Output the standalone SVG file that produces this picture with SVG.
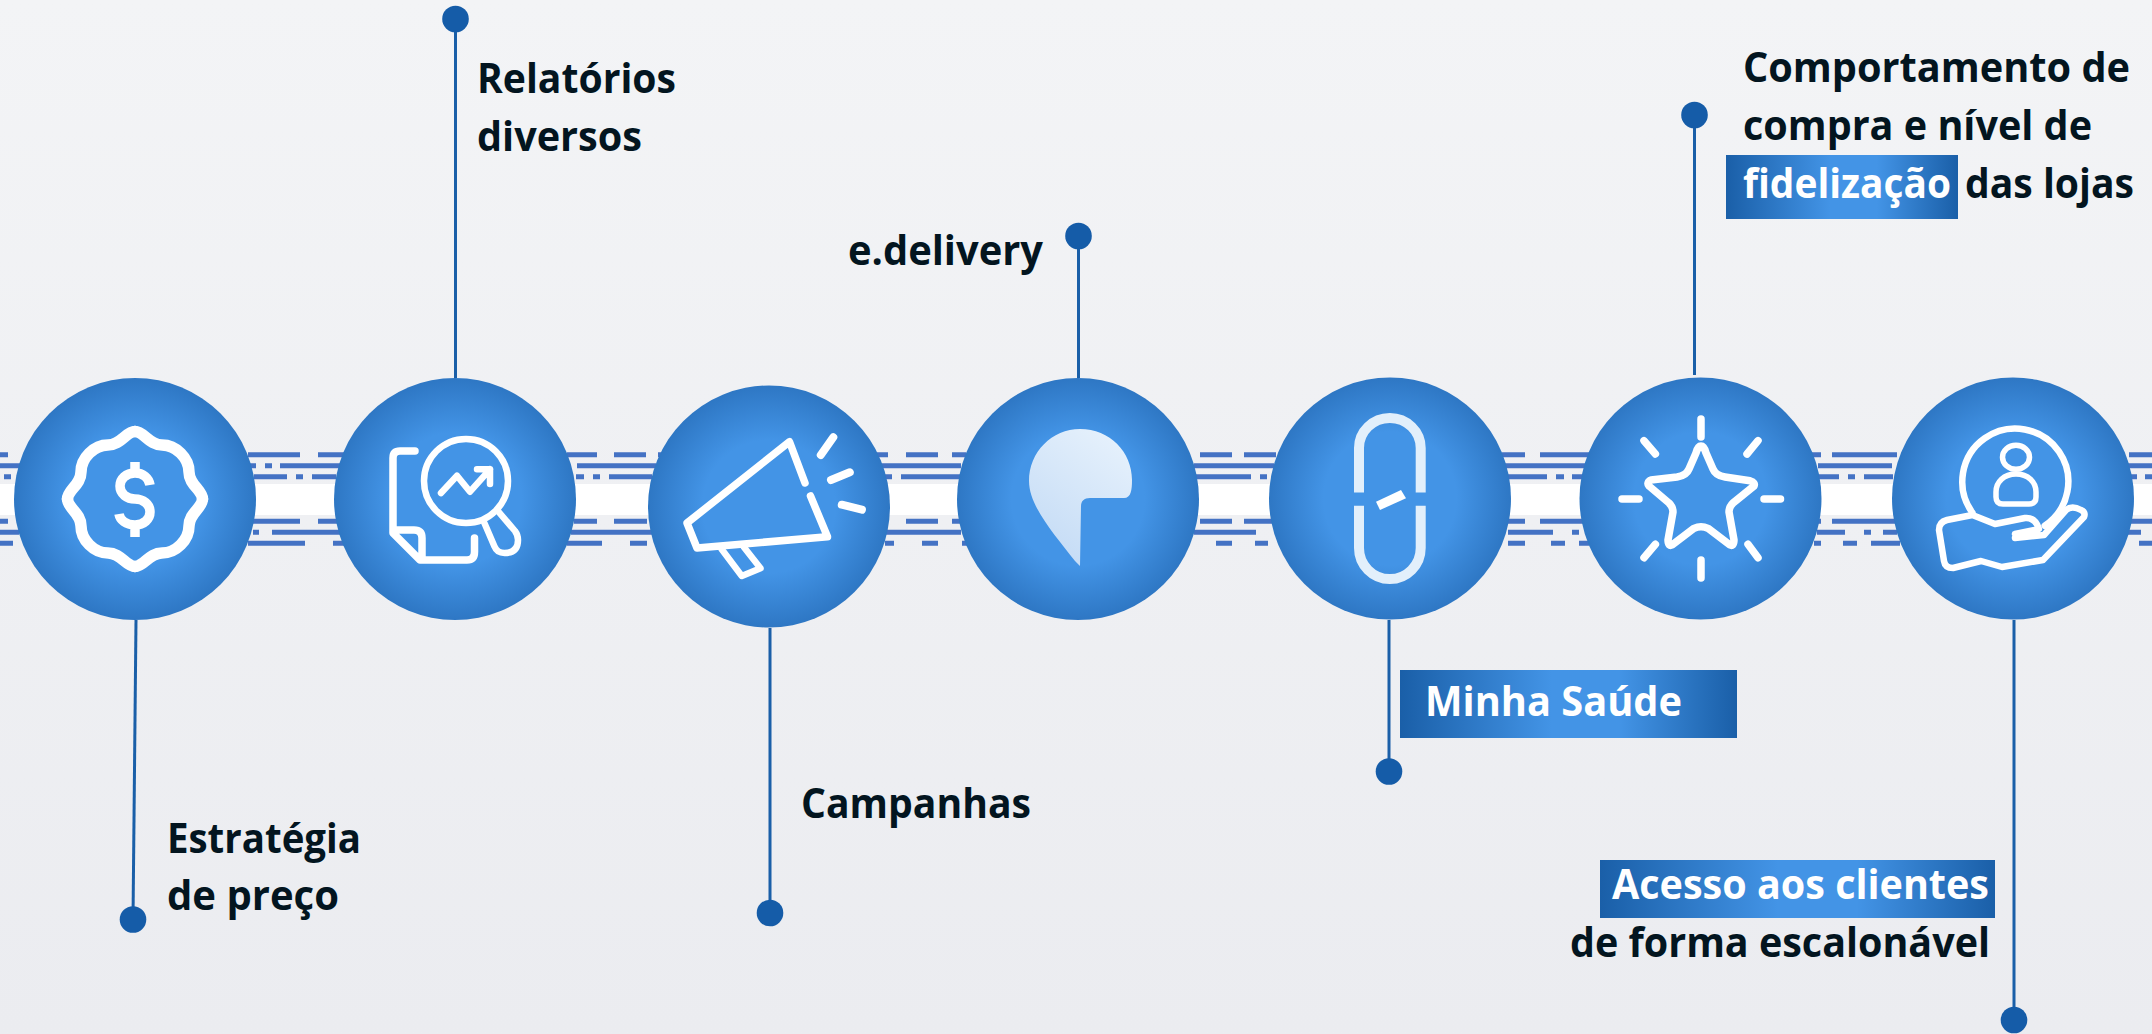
<svg xmlns="http://www.w3.org/2000/svg" xmlns:xlink="http://www.w3.org/1999/xlink" width="2152" height="1034" viewBox="0 0 2152 1034">
<style>
text{font-family:"Open Sans","Noto Sans","Liberation Sans",sans-serif;font-weight:700;font-size:42px;fill:#03151f}
text.w{fill:#fff}
.dash{fill:none;stroke:#4472c4;stroke-width:5}
.conn{fill:none;stroke:#1a5fa8;stroke-width:3}
.dot{fill:#155ca8}
.ic{fill:none;stroke:#fff;stroke-width:7.500;stroke-linecap:round;stroke-linejoin:round}
.th{stroke-width:6.500}
.hub{fill:url(#hub)}
</style>
<defs>
<linearGradient id="bg" x1="0" y1="0" x2="0" y2="1"><stop offset="0" stop-color="#f3f4f6"/><stop offset="1" stop-color="#ebecf0"/></linearGradient>
<radialGradient id="hub"><stop offset="0" stop-color="#4394e6"/><stop offset=".55" stop-color="#4394e6"/><stop offset="1" stop-color="#2e77c4"/></radialGradient>
<linearGradient id="tag"><stop offset="0" stop-color="#1a5fa8"/><stop offset=".45" stop-color="#4394e6"/><stop offset=".65" stop-color="#4394e6"/><stop offset="1" stop-color="#1a5fa8"/></linearGradient>
<linearGradient id="pin" x1=".75" y1="0" x2=".2" y2="1"><stop offset="0" stop-color="#e6f1fc"/><stop offset="1" stop-color="#c2daf5"/></linearGradient>
<path id="lobe" d="M0,-67.500C9,-67.500 14,-54 27,-54C41,-54 54,-41 54,-27C54,-14 67.500,-9 67.500,0"/>
</defs>
<rect width="2152" height="1034" fill="url(#bg)"/>
<rect y="484" width="2152" height="31" fill="#fff"/>
<g id="band">
<path class="dash" d="M0 454.700H8M248 454.700H300M318 454.700H345M567 454.700H597M614 454.700H646M658 454.700H670M877 454.700H888M906 454.700H938M952 454.700H966M1200 454.700H1232M1244 454.700H1276M1502 454.700H1525M1540 454.700H1589M1803 454.700H1821M1832 454.700H1897M2129 454.700H2152"/>
<path class="dash" d="M0 465.700H20M250 465.700H256M265 465.700H272M280 465.700H340M577 465.700H656M881 465.700H961M1194 465.700H1274M1505 465.700H1585M1818 465.700H1892M2128 465.700H2152"/>
<path class="dash" d="M4 476.700H11M254 476.700H287M296 476.700H303M312 476.700H336M576 476.700H584M593 476.700H600M609 476.700H652M883 476.700H892M901 476.700H960M1196 476.700H1251M1260 476.700H1267M1508 476.700H1547M1556 476.700H1564M1572 476.700H1583M1819 476.700H1839M1848 476.700H1855M1864 476.700H1893M2131 476.700H2137M2145 476.700H2152"/>
<path class="dash" d="M0 521.300H8M248 521.300H300M318 521.300H344M574 521.300H597M614 521.300H646M640 521.300H647M881 521.300H888M906 521.300H938M952 521.300H966M1200 521.300H1232M1244 521.300H1276M1508 521.300H1525M1540 521.300H1583M1814 521.300H1821M1832 521.300H1895M2129 521.300H2152"/>
<path class="dash" d="M0 532.300H19M253 532.300H259M272 532.300H340M571 532.300H652M885 532.300H961M1194 532.300H1256M1508 532.300H1553M1572 532.300H1579M1817 532.300H1845M1864 532.300H1871M1883 532.300H1897M2128 532.300H2141"/>
<path class="dash" d="M0 543.300H13M248 543.300H305M333 543.300H344M567 543.300H602M630 543.300H647M885 543.300H894M922 543.300H938M962 543.300H968M1216 543.300H1232M1255 543.300H1268M1508 543.300H1525M1551 543.300H1565M1579 543.300H1589M1814 543.300H1821M1843 543.300H1857M1871 543.300H1900M2139 543.300H2152"/>
</g>
<g id="connectors">
<path class="conn" d="M136 620L133 919"/>
<path class="conn" d="M455.500 19V378"/>
<path class="conn" d="M770 628V913"/>
<path class="conn" d="M1078.500 236V378"/>
<path class="conn" d="M1389 620V771"/>
<path class="conn" d="M1694.500 115V375"/>
<path class="conn" d="M2014 620V1020"/>
</g>
<g id="node-preco">
<circle class="hub" cx="135" cy="499" r="121"/>
<g class="ic" style="stroke-width:11.500" transform="translate(135 499)">
<use xlink:href="#lobe"/><use xlink:href="#lobe" transform="rotate(90)"/><use xlink:href="#lobe" transform="rotate(180)"/><use xlink:href="#lobe" transform="rotate(270)"/>
</g>
<path d="M150 485C149 478 143 473 135 473C126 473 120 479 120 486C120 494 127 499 135 499C143 499 150 504 150 512C150 519 144 525 135 525C126 525 120 520 119 514M135 462V473M135 525V537" fill="none" stroke="#fff" stroke-width="9.500"/>
<circle class="dot" cx="133" cy="919.500" r="13.300"/>
<text x="167" y="853" textLength="194" lengthAdjust="spacingAndGlyphs">Estratégia</text><text x="167" y="910" textLength="172" lengthAdjust="spacingAndGlyphs">de preço</text>
</g>
<g id="node-relatorios">
<circle class="hub" cx="455" cy="499" r="121"/>
<path class="ic" d="M415 451H400Q393 451 393 458V533L420 560H467Q474.500 560 474.500 552V538M393 530H414Q422 530 422 538V560"/>
<circle class="ic th" cx="466" cy="481" r="42"/>
<path class="ic th" d="M441 493L457 475.700L470 491.700L490 469.300M477 469.300H490V484"/>
<path class="ic th" d="M484.400 523L494.600 546.700Q497 553 504.500 553Q518 553 518 540Q518 535 515 531L497 510"/>
<circle class="dot" cx="455.500" cy="19" r="13.300"/>
<text x="477" y="93" textLength="199" lengthAdjust="spacingAndGlyphs">Relatórios</text><text x="477" y="151" textLength="165" lengthAdjust="spacingAndGlyphs">diversos</text>
</g>
<g id="node-campanhas">
<circle class="hub" cx="769" cy="506.500" r="121"/>
<path class="ic" d="M805 483L789.500 441.700L687 523L697 548L827.500 536.700L810.500 496"/>
<path class="ic th" d="M721.700 549.300L741.800 576L760.500 568.300L743.600 546.700"/>
<path class="ic" style="stroke-width:8" d="M820.800 455L833.300 437.300M831 480L849.800 472.300M841.800 504.700L861.900 509.700"/>
<circle class="dot" cx="770" cy="913" r="13.300"/>
<text x="801" y="818" textLength="230" lengthAdjust="spacingAndGlyphs">Campanhas</text>
</g>
<g id="node-edelivery">
<circle class="hub" cx="1078" cy="499" r="121"/>
<path fill="url(#pin)" d="M1080 566L1075 561C1054 534 1029 506 1029 481C1029 452 1052 429 1080 429C1110 429 1132 452 1132 480C1132 490 1131 498 1124 498H1090C1084 498 1081 501 1081 506Z"/>
<circle class="dot" cx="1078.500" cy="236" r="13.300"/>
<text x="848" y="265" textLength="195" lengthAdjust="spacingAndGlyphs">e.delivery</text>
</g>
<g id="node-minha-saude">
<circle class="hub" cx="1390" cy="498.500" r="121"/>
<path fill="none" stroke="#e2effb" stroke-width="10" d="M1359 492.500V448A30.800 30 0 0 1 1420.700 448V492.500M1359 505.700V548A30.800 31 0 0 0 1420.700 548V505.700"/>
<path fill="#fff" d="M1376 501.700L1401 490L1406 498.300L1380 510Z"/>
<circle class="dot" cx="1389" cy="771.500" r="13.300"/>
<rect x="1400" y="670" width="337" height="68" fill="url(#tag)"/>
<text class="w" x="1425" y="716" textLength="257" lengthAdjust="spacingAndGlyphs">Minha Saúde</text>
</g>
<g id="node-fidelizacao">
<circle class="hub" cx="1700.500" cy="498.500" r="121"/>
<path class="ic" d="M1701 446C1703 446 1705 449 1706 453L1713 469C1715 474 1719 476 1725 477L1750 480.700C1754 482 1755 484 1754 486L1733 503C1730 506 1729 508 1729 512L1734 540C1734 545 1732 546 1730 545L1708 528.300C1703 526 1699 526 1694 528.300L1672 545C1670 546 1668 545 1668 540L1673 512C1673 508 1672 506 1669 503L1649 486C1647 484 1648 481 1651 480L1677 477C1683 476 1687 474 1689 469L1696 453C1697 449 1699 446 1701 446Z"/>
<path class="ic" d="M1701 419V437M1701 560V578M1622 499H1639M1764 499H1780.500M1644 440.700L1655.400 454M1758 440.700L1747 454M1655.400 544.300L1644 557.700M1748 544.300L1758 557.700"/>
<circle class="dot" cx="1694.500" cy="115" r="13.300"/>
<text x="1743" y="82" textLength="387" lengthAdjust="spacingAndGlyphs">Comportamento de</text><text x="1743" y="140" textLength="349" lengthAdjust="spacingAndGlyphs">compra e nível de</text>
<rect x="1726" y="155" width="232" height="64" fill="url(#tag)"/>
<text class="w" x="1743" y="198" textLength="208" lengthAdjust="spacingAndGlyphs">fidelização</text><text x="1965" y="198" textLength="169" lengthAdjust="spacingAndGlyphs">das lojas</text>
</g>
<g id="node-acesso">
<circle class="hub" cx="2013" cy="498.500" r="121"/>
<path class="ic th" d="M1972.400 512.700A53 53 0 1 1 2044.700 525.700"/>
<ellipse class="ic" style="stroke-width:5.500" cx="2016" cy="457.300" rx="13.500" ry="12"/>
<path class="ic" style="stroke-width:5.500" d="M2003 504H2029Q2036 504 2036 497V492C2036 482 2028 474 2016 474C2004 474 1996 482 1996 492V497Q1996 504 2003 504Z"/>
<path class="ic th" d="M1972.400 515L1947 520Q1939 522 1939 530L1944 561Q1945 568 1953 568L1981 561L2002 567L2043 560L2084 517Q2086 512 2081 510Q2072 505 2066 510L2044 535L2015 538M2015 534L2039 529Q2035 517 2025 518L1995 524L1972.400 515"/>
<circle class="dot" cx="2014" cy="1020" r="13.300"/>
<rect x="1600" y="860" width="395" height="58" fill="url(#tag)"/>
<text class="w" x="1612" y="899" textLength="377" lengthAdjust="spacingAndGlyphs">Acesso aos clientes</text><text x="1570" y="957" textLength="420" lengthAdjust="spacingAndGlyphs">de forma escalonável</text>
</g>
</svg>
